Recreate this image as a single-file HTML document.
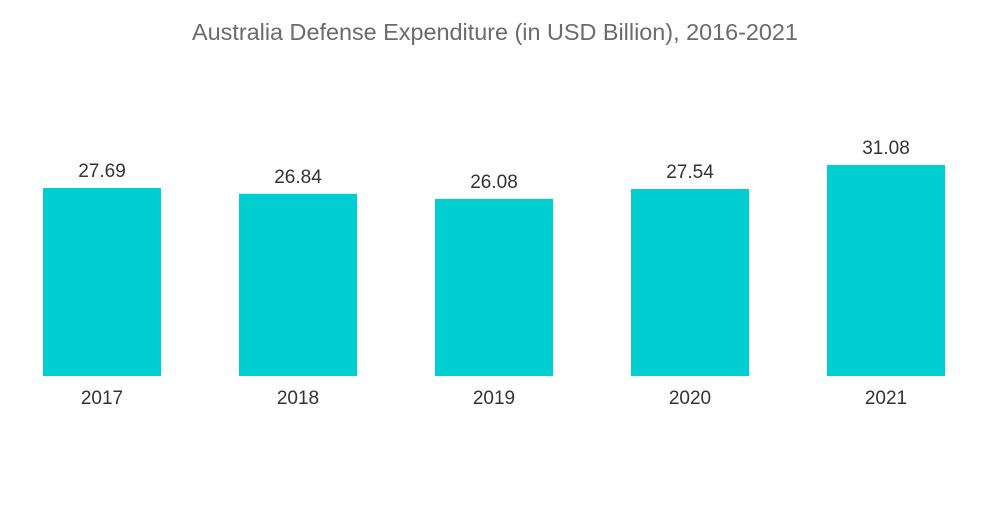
<!DOCTYPE html>
<html><head><meta charset="utf-8"><style>
html,body{margin:0;padding:0;background:#fff;}
svg text{font-family:"Liberation Sans",sans-serif;}
</style></head><body>
<svg id="chart" width="1000" height="504" xmlns="http://www.w3.org/2000/svg">
<text x="495" y="40" text-anchor="middle" font-size="23.4" fill="#6b6b6b">Australia Defense Expenditure (in USD Billion), 2016-2021</text>
<g id="bars"></g>
</svg>
<script>
const years = ["2017","2018","2019","2020","2021"];
const values = [27.69, 26.84, 26.08, 27.54, 31.08];
const baseY = 376, pxPerUnit = 6.79, firstX = 43, step = 196, barW = 118;
const y = v => baseY - v * pxPerUnit;
const x = i => firstX + i * step;
const g = document.getElementById('bars');
const ns = 'http://www.w3.org/2000/svg';
years.forEach((yr, i) => {
  const r = document.createElementNS(ns, 'rect');
  
  
  r.setAttribute('x', x(i)); r.setAttribute('y', y(values[i]));
  r.setAttribute('width', barW); r.setAttribute('height', baseY - y(values[i]));
  r.setAttribute('fill', '#00ced1');
  g.appendChild(r);
  const t = document.createElementNS(ns, 'text');
  
  
  t.setAttribute('x', x(i) + barW / 2); t.setAttribute('y', y(values[i]) - 11);
  t.setAttribute('text-anchor', 'middle'); t.setAttribute('font-size', '19'); t.setAttribute('fill', '#333');
  t.textContent = values[i].toFixed(2);
  g.appendChild(t);
  const l = document.createElementNS(ns, 'text');
  
  
  l.setAttribute('x', x(i) + barW / 2); l.setAttribute('y', 404);
  l.setAttribute('text-anchor', 'middle'); l.setAttribute('font-size', '19'); l.setAttribute('fill', '#333');
  l.textContent = yr;
  g.appendChild(l);
});
</script>
</body></html>
